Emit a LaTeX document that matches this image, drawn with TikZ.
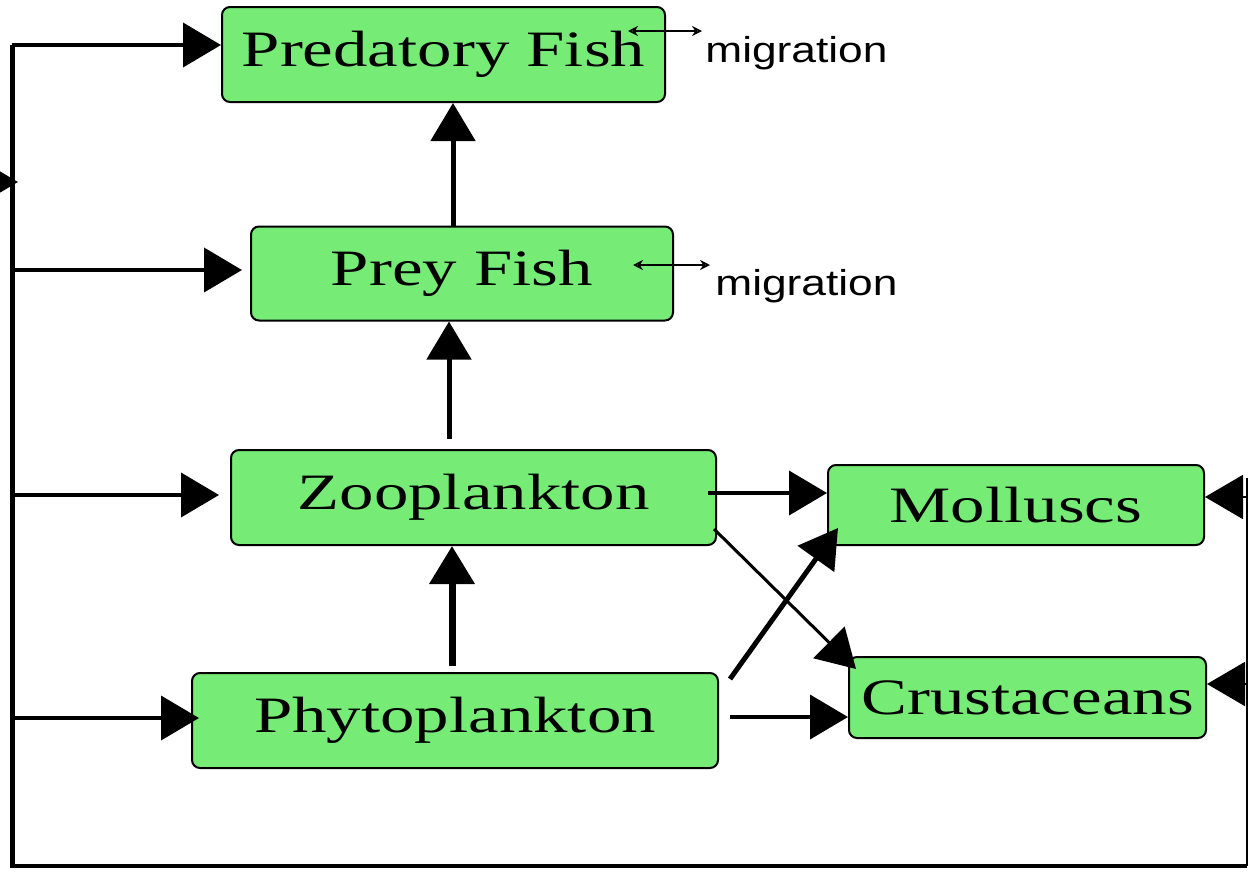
\documentclass[tikz,border=0pt]{standalone}
\usepackage{fontspec}
\usepackage{graphicx}
\setmainfont{Liberation Serif}
\newfontfamily\migfont{Liberation Sans}
\usetikzlibrary{arrows.meta,calc}
\definecolor{boxgreen}{RGB}{118,236,118}
\tikzset{
  box/.style={draw=black, line width=1pt, rounded corners=4pt, fill=boxgreen, inner sep=0pt},
  boxtext/.style={font=\fontsize{25.5}{30}\selectfont},
  arr/.style={-{Triangle[length=19pt,width=22pt]}, line width=2pt},
  busline/.style={line width=2.5pt},
  migarr/.style={{Stealth[length=5pt,width=5pt,open]}-{Stealth[length=5pt,width=5pt,open]}, line width=0.8pt},
  migtext/.style={font=\migfont\fontsize{18}{20}\selectfont, inner sep=0pt, anchor=base west}
}
\newcommand{\wide}[1]{\scalebox{1.35}[1]{#1}}
\begin{document}
\begin{tikzpicture}[x=0.5pt,y=-0.5pt]
\useasboundingbox (0,0) rectangle (1248,873);
\clip (0,0) rectangle (1248,873);
\fill[white] (0,0) rectangle (1248,873);

% boxes
\node[box, minimum width=221.5pt, minimum height=47.5pt, boxtext] (pred) at (443.5,54.5) {\wide{Predatory Fish}};
\node[box, minimum width=211pt, minimum height=47pt, boxtext] (prey) at (462,273.5) {\wide{Prey Fish}};
\node[box, minimum width=242.5pt, minimum height=47.5pt, boxtext] (zoo) at (473.5,497.5) {\wide{Zooplankton}};
\node[box, minimum width=263pt, minimum height=47.5pt, boxtext] (phyto) at (455,720.5) {\wide{Phytoplankton}};
\node[box, minimum width=188pt, minimum height=40pt, boxtext] (moll) at (1016,505) {\wide{Molluscs}};
\node[box, minimum width=178.5pt, minimum height=40.5pt, boxtext] (crus) at (1027.5,697.5) {\wide{Crustaceans}};

% migration labels
\node[migtext] (mig1) at (705,62) {\scalebox{1.23}[1]{migration}};
\node[migtext] (mig2) at (715,295) {\scalebox{1.23}[1]{migration}};
\coordinate (m1a) at (628,31);
\coordinate (m1b) at (702,31);
\coordinate (m2a) at (633,265);
\coordinate (m2b) at (710,265);
\draw[migarr] (m1a) -- (m1b);
\draw[migarr] (m2a) -- (m2b);

% bus coordinates
\coordinate (b1) at (12,45);
\coordinate (b2) at (12,270);
\coordinate (b3) at (12,495);
\coordinate (b4) at (12,718);
\coordinate (bl) at (12,866);
\coordinate (br) at (1247,866);
\coordinate (rt) at (1247,478);
\coordinate (r1) at (1247,497);
\coordinate (r2) at (1247,684);
\coordinate (src) at (-30,182);
\coordinate (bs) at (12,182);

% bus lines
\draw[busline] (b1) -- (bl);
\draw[line width=2pt] ([xshift=-1.25pt]bl) -- (br);
\draw[line width=1pt] (br) -- (rt);

% arrows from the bus
\draw[arr] (b1) -- (b1 -| pred.west);
\draw[arr, shorten >=4pt] (b2) -- (b2 -| prey.west);
\draw[arr, shorten >=5.5pt] (b3) -- (b3 -| zoo.west);
\draw[arr, shorten >=-4pt] (b4) -- (b4 -| phyto.west);
\draw[arr, shorten >=-3pt] (src) -- (bs);
\draw[arr, line width=1pt] (r1) -- (r1 -| moll.east);
\draw[arr, line width=1pt] (r2) -- (r2 -| crus.east);

% food-web arrows
\draw[arr, line width=2.5pt] ([xshift=-4.5pt]prey.north) -- ([xshift=-4.5pt]prey.north |- pred.south);
\draw[arr, line width=2.5pt, shorten <=5pt] ([xshift=-12.25pt]zoo.north) -- ([xshift=-12.25pt]zoo.north |- prey.south);
\draw[arr, line width=3.5pt, shorten <=3pt] ([xshift=-1.5pt]phyto.north) -- ([xshift=-1.5pt]phyto.north |- zoo.south);
\draw[arr] ([xshift=-4.5pt,yshift=2.25pt]zoo.east) -- ([yshift=2.25pt]zoo.east -| moll.west);
\draw[arr, line width=1.5pt] ([xshift=-1.5pt,yshift=8.5pt]zoo.south east) -- ([xshift=4pt,yshift=-6.5pt]crus.north west);
\draw[arr, line width=2.5pt] ([xshift=5.5pt,yshift=-3.5pt]phyto.north east) -- ([xshift=5.5pt,yshift=9pt]moll.south west);
\draw[arr] ([xshift=5.5pt,yshift=1.75pt]phyto.east) -- ([yshift=1.75pt]phyto.east -| crus.west);
\end{tikzpicture}
\end{document}
